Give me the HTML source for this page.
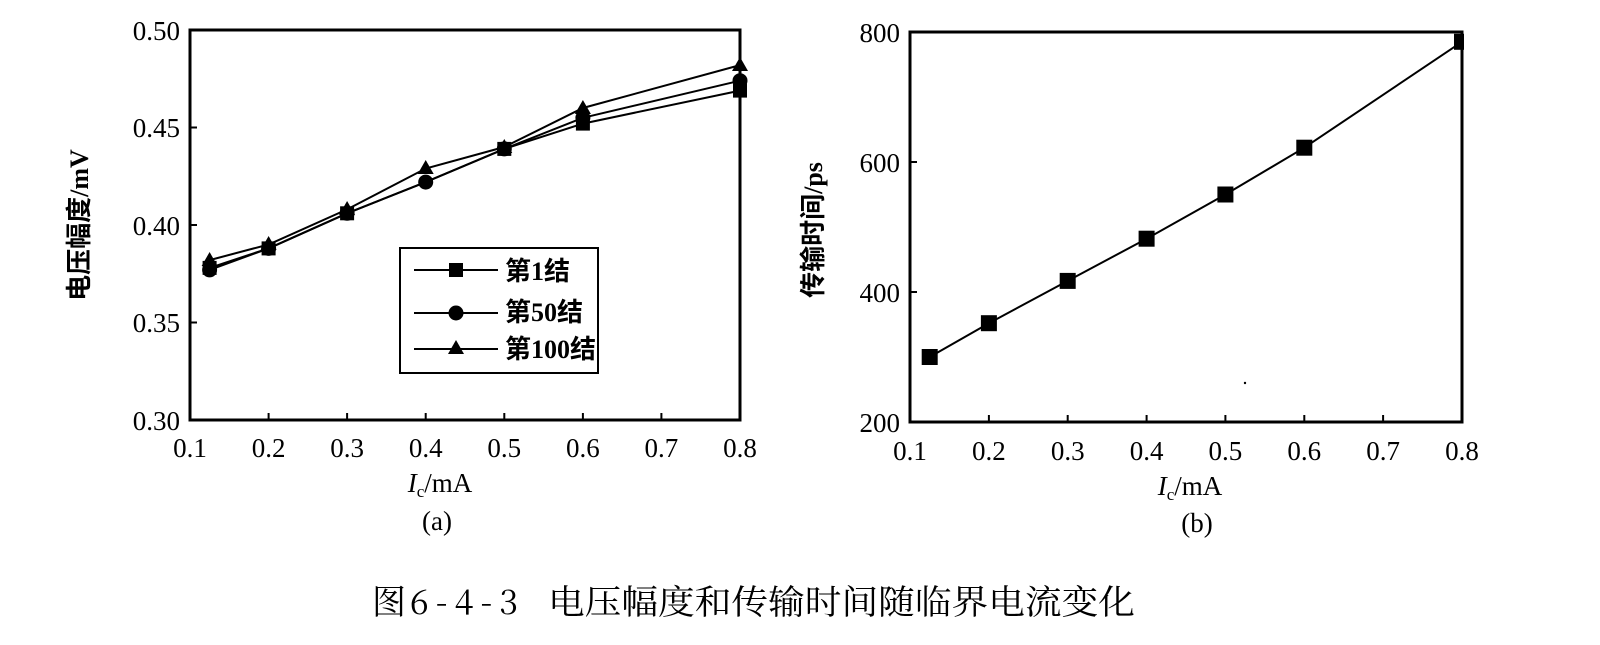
<!DOCTYPE html>
<html><head><meta charset="utf-8"><style>
html,body{margin:0;padding:0;background:#fff;}
svg{display:block;}
.t{font-family:"Liberation Serif","Noto Serif CJK SC",serif;font-size:27px;fill:#000;}
.c{font-family:"Liberation Serif","Noto Sans CJK SC",sans-serif;font-size:26px;fill:#000;}
.cap{font-family:"Noto Serif CJK SC","Noto Sans CJK SC",serif;font-size:34px;fill:#000;}
</style></head><body>
<svg width="1600" height="645" viewBox="0 0 1600 645" xmlns="http://www.w3.org/2000/svg">
<!-- Left panel -->
<rect x="190" y="30" width="550" height="390" fill="none" stroke="#000" stroke-width="3"/>
<g stroke="#000" stroke-width="2">
<line x1="190" y1="127.5" x2="197" y2="127.5"/><line x1="190" y1="225" x2="197" y2="225"/><line x1="190" y1="322.5" x2="197" y2="322.5"/>
<line x1="268.6" y1="420" x2="268.6" y2="413"/><line x1="347.1" y1="420" x2="347.1" y2="413"/><line x1="425.7" y1="420" x2="425.7" y2="413"/><line x1="504.3" y1="420" x2="504.3" y2="413"/><line x1="582.9" y1="420" x2="582.9" y2="413"/><line x1="661.4" y1="420" x2="661.4" y2="413"/>
</g>
<g class="t" text-anchor="end">
<text x="180" y="40">0.50</text><text x="180" y="137">0.45</text><text x="180" y="235">0.40</text><text x="180" y="332">0.35</text><text x="180" y="430">0.30</text>
</g>
<g class="t" text-anchor="middle">
<text x="190" y="457">0.1</text><text x="268.6" y="457">0.2</text><text x="347.1" y="457">0.3</text><text x="425.7" y="457">0.4</text><text x="504.3" y="457">0.5</text><text x="582.9" y="457">0.6</text><text x="661.4" y="457">0.7</text><text x="740" y="457">0.8</text>
<text x="440" y="492"><tspan font-style="italic">I</tspan><tspan font-size="17" dy="5">c</tspan><tspan dy="-5">/mA</tspan></text>
<text x="437" y="530">(a)</text>
</g>
<text class="c" transform="translate(88,225) rotate(-90)" text-anchor="middle" font-weight="bold">电压幅度/mV</text>
<g fill="none" stroke="#000" stroke-width="2">
<polyline points="209.6,267.9 268.6,248.4 347.1,213.3 425.7,182.1 504.3,148.9 582.9,123.6 740,90.6"/>
<polyline points="209.6,269.9 268.6,248.4 347.1,213.3 425.7,182.1 504.3,148.9 582.9,117.8 740,80.7"/>
<polyline points="209.6,260.1 268.6,244.5 347.1,209.4 425.7,168.5 504.3,147 582.9,108 740,65.1"/>
</g>
<g fill="#000">
<rect x="202.6" y="260.9" width="14" height="14"/><rect x="261.6" y="241.4" width="14" height="14"/><rect x="340.1" y="206.3" width="14" height="14"/><rect x="497.3" y="141.9" width="14" height="14"/><rect x="575.9" y="116.6" width="14" height="14"/><rect x="733" y="83.6" width="14" height="14"/>
<circle cx="209.6" cy="269.9" r="7.5"/><circle cx="268.6" cy="248.4" r="7.5"/><circle cx="347.1" cy="213.3" r="7.5"/><circle cx="425.7" cy="182.1" r="7.5"/><circle cx="504.3" cy="148.9" r="7.5"/><circle cx="582.9" cy="117.8" r="7.5"/><circle cx="740" cy="80.7" r="7.5"/>
<path d="M209.6,252 l8,14 h-16z"/><path d="M268.6,236 l8,14 h-16z"/><path d="M347.1,201 l8,14 h-16z"/><path d="M425.7,160 l8,14 h-16z"/><path d="M504.3,139 l8,14 h-16z"/><path d="M582.9,100 l8,14 h-16z"/><path d="M740,57 l8,14 h-16z"/>
</g>
<!-- legend -->
<rect x="400" y="248" width="198" height="125" fill="#fff" stroke="#000" stroke-width="2"/>
<g stroke="#000" stroke-width="2"><line x1="414" y1="270" x2="498" y2="270"/><line x1="414" y1="313" x2="498" y2="313"/><line x1="414" y1="349" x2="498" y2="349"/></g>
<rect x="449" y="263" width="14" height="14" fill="#000"/>
<circle cx="456" cy="313" r="7.5" fill="#000"/>
<path d="M456,340 l8,14 h-16z" fill="#000"/>
<g class="c" font-weight="bold"><text x="505" y="280">第1结</text><text x="505" y="321">第50结</text><text x="505" y="358">第100结</text></g>

<!-- Right panel -->
<rect x="910" y="32" width="552" height="390" fill="none" stroke="#000" stroke-width="3"/>
<g stroke="#000" stroke-width="2">
<line x1="910" y1="162" x2="917" y2="162"/><line x1="910" y1="292" x2="917" y2="292"/>
<line x1="988.9" y1="422" x2="988.9" y2="415"/><line x1="1067.7" y1="422" x2="1067.7" y2="415"/><line x1="1146.6" y1="422" x2="1146.6" y2="415"/><line x1="1225.4" y1="422" x2="1225.4" y2="415"/><line x1="1304.3" y1="422" x2="1304.3" y2="415"/><line x1="1383.1" y1="422" x2="1383.1" y2="415"/>
</g>
<g class="t" text-anchor="end">
<text x="900" y="42">800</text><text x="900" y="172">600</text><text x="900" y="302">400</text><text x="900" y="432">200</text>
</g>
<g class="t" text-anchor="middle">
<text x="910" y="460">0.1</text><text x="988.9" y="460">0.2</text><text x="1067.7" y="460">0.3</text><text x="1146.6" y="460">0.4</text><text x="1225.4" y="460">0.5</text><text x="1304.3" y="460">0.6</text><text x="1383.1" y="460">0.7</text><text x="1462" y="460">0.8</text>
<text x="1190" y="495"><tspan font-style="italic">I</tspan><tspan font-size="17" dy="5">c</tspan><tspan dy="-5">/mA</tspan></text>
<text x="1197" y="532">(b)</text>
</g>
<text class="c" transform="translate(822,230) rotate(-90)" text-anchor="middle" font-weight="bold">传输时间/ps</text>
<polyline fill="none" stroke="#000" stroke-width="2" points="929.7,357 988.9,323.2 1067.7,280.9 1146.6,238.7 1225.4,194.5 1304.3,147.7 1462,41.8"/>
<g fill="#000">
<rect x="921.7" y="349" width="16" height="16"/><rect x="980.9" y="315.2" width="16" height="16"/><rect x="1059.7" y="272.9" width="16" height="16"/><rect x="1138.6" y="230.7" width="16" height="16"/><rect x="1217.4" y="186.5" width="16" height="16"/><rect x="1296.3" y="139.7" width="16" height="16"/><rect x="1454" y="33.8" width="10" height="16"/>
</g>
<circle cx="1245" cy="383" r="1.2" fill="#000"/>
<text class="cap" x="372" y="614">图</text>
<text class="cap" x="410" y="614" textLength="108" lengthAdjust="spacing" font-size="30">6-4-3</text>
<text class="cap" x="548" y="614" textLength="587" lengthAdjust="spacingAndGlyphs">电压幅度和传输时间随临界电流变化</text>
</svg>
</body></html>
